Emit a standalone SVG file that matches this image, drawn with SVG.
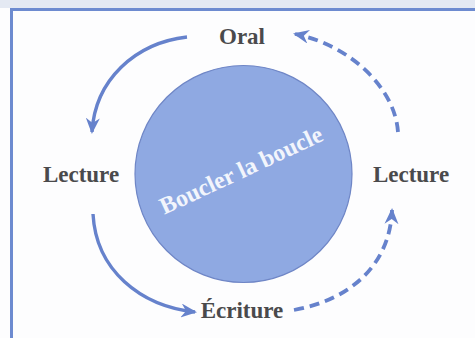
<svg xmlns="http://www.w3.org/2000/svg" width="475" height="338" viewBox="0 0 475 338">
<style>
.lbl{font-family:"Liberation Serif","Times New Roman",serif;font-weight:bold;font-size:23px;fill:#4a4a4c;text-anchor:middle}
.arr{fill:none;stroke:#6682cc;stroke-width:3.4}
.dash{stroke-width:3.8;stroke-dasharray:10 6}
</style>
<defs>
<marker id="ah" viewBox="0 0 16 14" refX="14" refY="7" markerWidth="16" markerHeight="14" markerUnits="userSpaceOnUse" orient="auto">
<path d="M0,0 L16,7 L0,14 L5,7 Z" fill="#6682cc"/>
</marker>
</defs>
<rect x="0" y="0" width="475" height="338" fill="#fdfdfe"/>
<rect x="0" y="0" width="475" height="8" fill="#e4e9f3"/>
<path d="M11.5,338 V9.5 H475" fill="none" stroke="#6d8bd0" stroke-width="3"/>
<g id="center">
<circle cx="243.5" cy="174" r="108.5" fill="#8fa9e2" stroke="#6f86c6" stroke-width="1.2"/>
<text x="242" y="178" class="lbl" style="fill:#f2f5fc;font-size:24px" transform="rotate(-25 242 172)">Boucler la boucle</text>
</g>
<g id="oral"><text x="242" y="44" class="lbl">Oral</text></g>
<g id="lecture-left"><text x="81" y="182" class="lbl">Lecture</text></g>
<g id="lecture-right"><text x="411" y="182" class="lbl">Lecture</text></g>
<g id="ecriture"><text x="242" y="318" class="lbl">Écriture</text></g>
<g id="connectors">
<path class="arr" d="M187,37 C135,43 95,80 92,132" marker-end="url(#ah)"/>
<path class="arr" d="M93,214 C96,270 140,306 195,312" marker-end="url(#ah)"/>
<path class="arr dash" d="M294,310 C350,300 390,265 392,210" marker-end="url(#ah)"/>
<path class="arr dash" d="M398,132 C395,88 350,45 295,34" marker-end="url(#ah)"/>
</g>
</svg>
